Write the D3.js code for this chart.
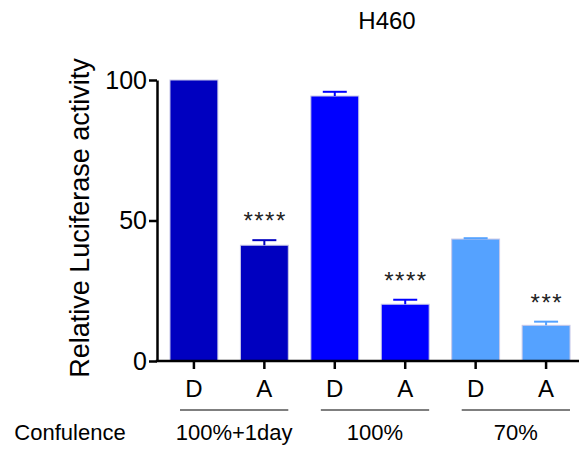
<!DOCTYPE html>
<html>
<head>
<meta charset="utf-8">
<script src="https://cdn.jsdelivr.net/npm/d3@7"></script>
<style>
  body { margin: 0; background: #fff; }
  text { font-family: Arial, "Liberation Sans", sans-serif; }
</style>
</head>
<body>
<svg width="579" height="454"></svg>
<script>
// chart values
var bars = ["D1", "A1", "D2", "A2", "D3", "A3"];
var barLabels = ["D", "A", "D", "A", "D", "A"];
var values = [100, 41.2, 94.3, 20.2, 43.4, 12.7];
var errors = [0, 1.8, 1.5, 1.6, 0.3, 1.3];
var stars = ["", "****", "", "****", "", "***"];
var groups = ["100%+1day", "100%", "70%"];
var yTicks = [0, 50, 100];

var groupColor = ["#0000c0", "#0000ff", "#55a2ff"];

var svg = d3.select("svg");

var x = d3.scaleBand()
    .domain(bars)
    .range([158, 582])
    .paddingInner(0.32)
    .paddingOuter(0.17);

var y = d3.scaleLinear()
    .domain([0, 100])
    .range([361, 80]);

function colorOf(i) { return groupColor[Math.floor(i / 2)]; }

// bars
svg.append("g")
  .selectAll("rect")
  .data(bars)
  .enter().append("rect")
    .attr("x", function(d) { return x(d); })
    .attr("y", function(d, i) { return y(values[i]); })
    .attr("width", x.bandwidth())
    .attr("height", function(d, i) { return y(0) - y(values[i]); })
    .attr("fill", function(d, i) { return colorOf(i); })
    .attr("stroke", "#c8c8e8")
    .attr("stroke-width", 1);

// error bars (upper only)
var err = svg.append("g")
  .selectAll("g")
  .data(bars)
  .enter().append("g")
    .filter(function(d, i) { return errors[i] > 0; });

err.append("line")
    .attr("x1", function(d) { return x(d) + x.bandwidth() / 2; })
    .attr("x2", function(d) { return x(d) + x.bandwidth() / 2; })
    .attr("y1", function(d) { return y(values[bars.indexOf(d)]); })
    .attr("y2", function(d) { var i = bars.indexOf(d); return y(values[i] + errors[i]); })
    .attr("stroke", function(d) { return colorOf(bars.indexOf(d)); })
    .attr("stroke-width", 2);

err.append("line")
    .attr("x1", function(d) { return x(d) + x.bandwidth() / 2 - 12; })
    .attr("x2", function(d) { return x(d) + x.bandwidth() / 2 + 12; })
    .attr("y1", function(d) { var i = bars.indexOf(d); return y(values[i] + errors[i]); })
    .attr("y2", function(d) { var i = bars.indexOf(d); return y(values[i] + errors[i]); })
    .attr("stroke", function(d) { return colorOf(bars.indexOf(d)); })
    .attr("stroke-width", 2);

// significance stars
svg.append("g")
  .selectAll("text")
  .data(bars)
  .enter().append("text")
    .attr("x", function(d) { return x(d) + x.bandwidth() / 2 + 0.75; })
    .attr("y", function(d, i) { return y(values[i] + errors[i]) - 11; })
    .attr("text-anchor", "middle")
    .attr("font-size", 24)
    .attr("letter-spacing", 1.5)
    .attr("fill", "#222")
    .text(function(d, i) { return stars[i]; });

// axes
var yAxis = svg.append("g")
    .attr("transform", "translate(157,0)")
    .call(d3.axisLeft(y).tickValues(yTicks).tickSize(8).tickSizeOuter(0).tickPadding(2));
yAxis.selectAll("text").attr("font-size", 25).attr("fill", "#000");

var xAxis = svg.append("g")
    .attr("transform", "translate(0,361)")
    .call(d3.axisBottom(x).tickSize(8).tickSizeOuter(0).tickPadding(11)
      .tickFormat(function(d, i) { return barLabels[i]; }));
xAxis.selectAll("text").attr("font-size", 24).attr("fill", "#000");

svg.selectAll(".domain, .tick line")
    .attr("stroke", "#000")
    .attr("stroke-width", 2.5);
xAxis.select(".domain").attr("d", "M155.75,0H579");

// group lines and labels
groups.forEach(function(g, k) {
  var x0 = x(bars[2 * k]) + 10;
  var x1 = x(bars[2 * k + 1]) + x.bandwidth();
  svg.append("line")
      .attr("x1", x0).attr("x2", x1)
      .attr("y1", 410).attr("y2", 410)
      .attr("stroke", "#000")
      .attr("stroke-width", 1.2);
  svg.append("text")
      .attr("x", (x0 + x1) / 2)
      .attr("y", 440)
      .attr("text-anchor", "middle")
      .attr("font-size", 22)
      .text(g);
});

svg.append("text")
    .attr("x", 70)
    .attr("y", 440)
    .attr("text-anchor", "middle")
    .attr("font-size", 22)
    .text("Confulence");

// axis title
svg.append("text")
    .attr("transform", "translate(89,218) rotate(-90)")
    .attr("text-anchor", "middle")
    .attr("font-size", 27)
    .text("Relative Luciferase activity");

// chart title
svg.append("text")
    .attr("x", 387)
    .attr("y", 29)
    .attr("text-anchor", "middle")
    .attr("font-size", 24)
    .text("H460");
</script>
</body>
</html>
